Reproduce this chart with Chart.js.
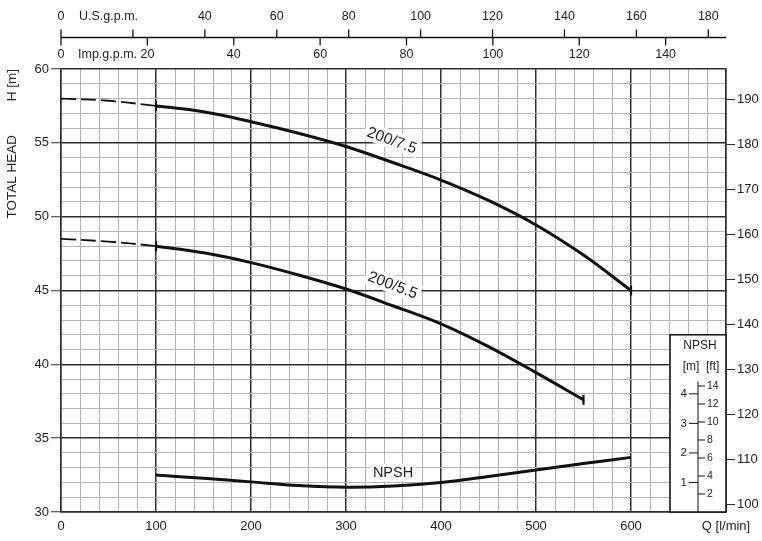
<!DOCTYPE html>
<html>
<head>
<meta charset="utf-8">
<script src="https://cdn.jsdelivr.net/npm/chart.js@4.4.0/dist/chart.umd.min.js"></script>
<style>
  html, body { margin: 0; padding: 0; background: #fff; }
</style>
</head>
<body>
<canvas id="pump" width="762" height="541"></canvas>
<script>
// flow in l/min, head in m
const Q_75 = [0, 50, 100, 150, 200, 250, 300, 350, 400, 450, 500, 550, 600];
const H_75 = [58.0, 57.85, 57.5, 57.1, 56.43, 55.65, 54.75, 53.65, 52.48, 51.1, 49.44, 47.4, 45.0];
const Q_55 = [0, 50, 100, 150, 200, 250, 300, 350, 400, 450, 500, 550];
const H_55 = [48.5, 48.31, 48.0, 47.55, 46.89, 46.05, 45.1, 43.95, 42.74, 41.2, 39.44, 37.6];
const Q_NPSH = [100, 150, 200, 250, 300, 350, 400, 450, 500, 550, 600];
const NPSH_M = [1.25, 1.14, 1.02, 0.9, 0.84, 0.88, 1.0, 1.2, 1.42, 1.64, 1.85];

const FT_TICKS = [100, 110, 120, 130, 140, 150, 160, 170, 180, 190];
const US_TICKS = [0, 20, 40, 60, 80, 100, 120, 140, 160, 180];
const IMP_TICKS = [0, 20, 40, 60, 80, 100, 120, 140];
const NPSH_M_TICKS = [1, 2, 3, 4];
const NPSH_FT_TICKS = [2, 4, 6, 8, 10, 12, 14];

const M_TO_FT = 3.28084;
const L_PER_USG = 3.78541;
const L_PER_IMPG = 4.54609;
const DASH_TO = 100; // curves are dashed below this flow

const FONT = "'Liberation Sans', Arial, Helvetica, sans-serif";
const INK = '#111';
const TEXT = '#222';
const MAJOR = '#2e2e2e';
const MINOR = '#b4b4b4';

function curveStyle(qs) {
  return {
    borderColor: INK,
    borderWidth: 3,
    fill: false,
    tension: 0.35,
    pointStyle: 'line',
    pointRotation: 90,
    pointRadius: (c) => (qs[c.dataIndex] === DASH_TO || c.dataIndex === qs.length - 1 ? 5 : 0),
    pointHoverRadius: 0,
    pointBorderColor: INK,
    pointBorderWidth: 2.2,
    segment: {
      borderDash: (c) => (qs[c.p1DataIndex] <= DASH_TO ? [15, 5] : undefined),
      borderWidth: (c) => (qs[c.p1DataIndex] <= DASH_TO ? 1.8 : undefined),
    },
  };
}

// top double scale: U.S. gallons above the line, imperial below
const topAxes = {
  id: 'topAxes',
  afterDraw(chart) {
    const { ctx, chartArea, scales: { x } } = chart;
    const base = 37.5;
    ctx.save();
    ctx.strokeStyle = INK;
    ctx.lineWidth = 1.3;
    ctx.beginPath();
    ctx.moveTo(chartArea.left, base);
    ctx.lineTo(chartArea.right, base);
    ctx.stroke();
    ctx.font = `12.5px ${FONT}`;
    ctx.fillStyle = TEXT;
    ctx.textAlign = 'center';
    ctx.textBaseline = 'middle';
    US_TICKS.forEach((v) => {
      const px = x.getPixelForValue(v * L_PER_USG);
      ctx.beginPath();
      ctx.moveTo(px, base);
      ctx.lineTo(px, base - 8);
      ctx.stroke();
      if (v !== 20) ctx.fillText(String(v), px, 17);
    });
    IMP_TICKS.forEach((v) => {
      const px = x.getPixelForValue(v * L_PER_IMPG);
      ctx.beginPath();
      ctx.moveTo(px, base);
      ctx.lineTo(px, base + 8);
      ctx.stroke();
      ctx.fillText(String(v), px, 55);
    });
    ctx.textAlign = 'left';
    ctx.fillText('U.S.g.p.m.', chartArea.left + 18, 17);
    ctx.fillText('Imp.g.p.m.', chartArea.left + 17, 55);
    ctx.restore();
  },
};

// curve names on white patches
const curveLabels = {
  id: 'curveLabels',
  beforeDatasetsDraw(chart) {
    const { ctx, scales: { x, y } } = chart;
    const items = [
      ['200/7.5', x.getPixelForValue(348.5), y.getPixelForValue(55.2), 20],
      ['200/5.5', x.getPixelForValue(349.5), y.getPixelForValue(45.4), 21],
      ['NPSH', x.getPixelForValue(349.5), y.getPixelForValue(32.68), 0],
    ];
    ctx.save();
    items.forEach(([txt, px, py, deg]) => {
      ctx.save();
      ctx.translate(px, py);
      ctx.rotate((deg * Math.PI) / 180);
      ctx.font = `${deg ? 15.5 : 14.5}px ${FONT}`;
      const w = ctx.measureText(txt).width;
      ctx.fillStyle = '#fff';
      ctx.fillRect(-w / 2 - 3, -9, w + 6, 18);
      ctx.fillStyle = TEXT;
      ctx.textAlign = 'center';
      ctx.textBaseline = 'middle';
      ctx.fillText(txt, 0, 1);
      ctx.restore();
    });
    ctx.restore();
  },
};

// NPSH scale box in the lower right corner
const npshInset = {
  id: 'npshInset',
  afterDatasetsDraw(chart) {
    const { ctx, chartArea, scales: { y, npsh } } = chart;
    const right = chartArea.right;
    const left = right - 56;
    const top = y.getPixelForValue(42);
    const bottom = chartArea.bottom;
    ctx.save();
    ctx.fillStyle = '#fff';
    ctx.fillRect(left, top, right - left, bottom - top);
    ctx.strokeStyle = INK;
    ctx.lineWidth = 1.5;
    ctx.strokeRect(left, top, right - left, bottom - top);

    const cx = (left + right) / 2;
    ctx.fillStyle = TEXT;
    ctx.textAlign = 'center';
    ctx.textBaseline = 'middle';
    ctx.font = `12px ${FONT}`;
    ctx.fillText('NPSH', cx + 2, top + 11);
    ctx.fillText('[m]  [ft]', cx + 3, top + 32);

    ctx.lineWidth = 1;
    ctx.beginPath();
    ctx.moveTo(cx, npsh.getPixelForValue(14.5 / M_TO_FT));
    ctx.lineTo(cx, bottom);
    ctx.stroke();

    ctx.textAlign = 'right';
    ctx.font = `11.5px ${FONT}`;
    NPSH_M_TICKS.forEach((v) => {
      const py = npsh.getPixelForValue(v);
      ctx.beginPath();
      ctx.moveTo(cx - 9, py);
      ctx.lineTo(cx, py);
      ctx.stroke();
      ctx.fillText(String(v), cx - 11, py);
    });
    ctx.textAlign = 'left';
    ctx.font = `10.5px ${FONT}`;
    NPSH_FT_TICKS.forEach((v) => {
      const py = npsh.getPixelForValue(v / M_TO_FT);
      ctx.beginPath();
      ctx.moveTo(cx, py);
      ctx.lineTo(cx + 7, py);
      ctx.stroke();
      ctx.fillText(String(v), cx + 9, py);
    });
    ctx.restore();
  },
};

const isMajor = (c, step) => c.tick && Math.abs(c.tick.value % step) < 1e-6;

const chart = new Chart(document.getElementById('pump'), {
  type: 'line',
  data: {
    datasets: [
      { label: '200/7.5', data: Q_75.map((q, i) => ({ x: q, y: H_75[i] })), yAxisID: 'y', ...curveStyle(Q_75) },
      { label: '200/5.5', data: Q_55.map((q, i) => ({ x: q, y: H_55[i] })), yAxisID: 'y', ...curveStyle(Q_55) },
      {
        label: 'NPSH',
        data: Q_NPSH.map((q, i) => ({ x: q, y: NPSH_M[i] })),
        yAxisID: 'npsh',
        borderColor: INK,
        borderWidth: 3,
        tension: 0.35,
        pointRadius: 0,
        pointHoverRadius: 0,
      },
    ],
  },
  options: {
    responsive: false,
    animation: false,
    events: [],
    layout: { padding: { top: 69 } },
    plugins: {
      legend: { display: false },
      tooltip: { enabled: false },
    },
    scales: {
      x: {
        type: 'linear',
        min: 0,
        max: 700,
        ticks: {
          stepSize: 20,
          autoSkip: false,
          maxRotation: 0,
          padding: 7,
          color: TEXT,
          font: { family: FONT, size: 13 },
          callback: (v) => (v % 100 === 0 ? (v === 700 ? 'Q [l/min]' : String(v)) : ''),
        },
        grid: {
          color: (c) => (isMajor(c, 100) ? MAJOR : MINOR),
          lineWidth: (c) => (isMajor(c, 100) ? 1.5 : 1),
          drawTicks: false,
        },
        border: { color: MAJOR, width: 1.5 },
        afterFit: (s) => { s.height = 29; },
      },
      y: {
        position: 'left',
        min: 30,
        max: 60,
        ticks: {
          stepSize: 1,
          autoSkip: false,
          padding: 2,
          color: TEXT,
          font: { family: FONT, size: 13 },
          callback: (v) => (v % 5 === 0 ? String(v) : ''),
        },
        grid: {
          color: (c) => (isMajor(c, 5) ? MAJOR : MINOR),
          lineWidth: (c) => (isMajor(c, 5) ? 1.5 : 1),
          tickColor: (c) => (isMajor(c, 5) ? MAJOR : 'rgba(0,0,0,0)'),
          tickLength: 10,
          tickWidth: 1,
        },
        border: { color: MAJOR, width: 1.5 },
        title: {
          display: true,
          text: 'TOTAL HEAD         H [m]',
          align: 'end',
          color: TEXT,
          font: { family: FONT, size: 13.5 },
          padding: { top: 4, bottom: 0 },
        },
        afterFit: (s) => { s.width = 61; },
      },
      ft: {
        axis: 'y',
        position: 'right',
        min: 30 * M_TO_FT,
        max: 60 * M_TO_FT,
        afterBuildTicks: (s) => { s.ticks = FT_TICKS.map((v) => ({ value: v })); },
        ticks: {
          padding: 2,
          color: TEXT,
          font: { family: FONT, size: 13 },
        },
        grid: { drawOnChartArea: false, color: MAJOR, tickLength: 9, lineWidth: 1 },
        border: { color: MAJOR, width: 1.5 },
        afterFit: (s) => { s.width = 36; },
      },
      npsh: {
        axis: 'y',
        position: 'right',
        display: false,
        min: 0,
        max: 15,
      },
    },
  },
  plugins: [topAxes, curveLabels, npshInset],
});
</script>
</body>
</html>
